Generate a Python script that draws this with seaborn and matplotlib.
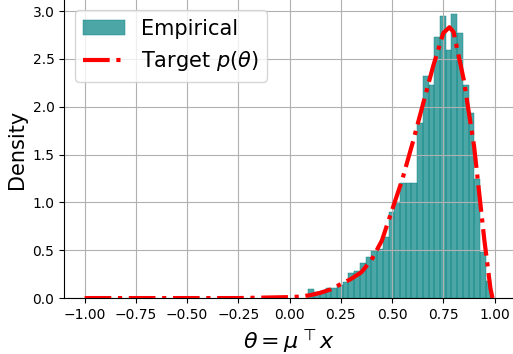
import numpy as np
import pandas as pd
import matplotlib
matplotlib.use("Agg")
import matplotlib.pyplot as plt
import seaborn as sns

# alturas de las barras (densidad)
alturas = [0.094, 0.059, 0.076, 0.10, 0.10, 0.14, 0.17, 0.26, 0.28, 0.37,
           0.43, 0.49, 0.51, 0.64, 0.90, 1.00, 1.20, 1.20, 1.20, 1.83,
           2.32, 2.23, 2.73, 2.95, 2.59, 2.97, 2.77, 2.23, 1.93, 1.24,
           0.48, 0.18]
borde_min = 0.092
borde_max = 0.985

# curva objetivo p(theta)
theta = [-1.0, -0.75, -0.5, -0.25, 0.0, 0.05, 0.1, 0.15, 0.2, 0.25, 0.3,
         0.35, 0.4, 0.45, 0.5, 0.55, 0.6, 0.65, 0.7, 0.75, 0.78, 0.8,
         0.85, 0.9, 0.95, 0.98, 0.99]
p_theta = [0.0, 0.0, 0.0, 0.0, 0.01, 0.015, 0.03, 0.055, 0.09, 0.146, 0.2,
           0.27, 0.4, 0.6, 0.92, 1.24, 1.62, 2.02, 2.42, 2.77, 2.83, 2.78,
           2.28, 1.59, 0.61, 0.1, 0.0]

bordes = np.linspace(borde_min, borde_max, len(alturas) + 1)
centros = (bordes[:-1] + bordes[1:]) / 2
df_hist = pd.DataFrame({"theta": centros, "densidad": alturas})
df_curva = pd.DataFrame({"theta": theta, "p": p_theta})

fig = plt.figure(figsize=(5.13, 3.54), dpi=100)
ax = fig.add_axes([0.125, 0.158, 0.875, 0.842])

sns.histplot(data=df_hist, x="theta", weights="densidad", bins=list(bordes),
             stat="count", color="teal", alpha=0.7, edgecolor="teal",
             linewidth=0.3, ax=ax, label="Empirical")
sns.lineplot(data=df_curva, x="theta", y="p", color="red", linestyle="-.",
             linewidth=3, ax=ax, label=r"Target $p(\theta)$")

ax.set_xlim(-1.1, 1.09)
ax.set_ylim(0, 3.115)
ticks_x = np.arange(-1.0, 1.01, 0.25)
ticks_y = np.arange(0, 3.01, 0.5)
ax.set_xticks(ticks_x)
ax.set_yticks(ticks_y)
ax.set_xticklabels([f"{t:.2f}".replace("-", "\u2212") for t in ticks_x])
ax.set_yticklabels([f"{t:.1f}" for t in ticks_y])
ax.tick_params(labelsize=10)
ax.grid(True)
ax.set_xlabel(r"$\theta = \mu^\top x$", fontsize=16)
ax.set_ylabel("Density", fontsize=15)
ax.spines["top"].set_visible(False)
ax.spines["right"].set_visible(False)

# orden de la leyenda: primero el histograma
handles, labels = ax.get_legend_handles_labels()
orden = [labels.index("Empirical"), labels.index(r"Target $p(\theta)$")]
ax.legend([handles[i] for i in orden], [labels[i] for i in orden],
          loc="upper left", fontsize=15, handlelength=2.0)

fig.savefig("out.png", dpi=100)
